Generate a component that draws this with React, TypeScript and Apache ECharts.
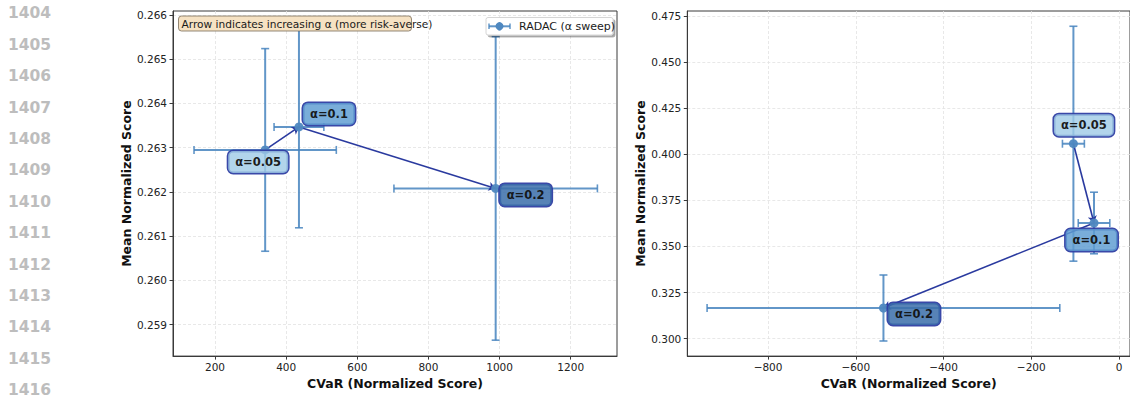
import React, { useEffect, useRef } from "react";
import * as echarts from "echarts";

// ---- data ----
const alphaLabels = ["α=0.05", "α=0.1", "α=0.2"];
const leftCvar = [341, 436, 989];
const leftCvarErr = [200, 70, 286];
const leftMean = [0.26295, 0.26347, 0.26208];
const leftMeanErr = [0.00229, 0.00228, 0.00343];
const rightCvar = [-104, -57, -537];
const rightCvarErr = [25, 36, 402];
const rightMean = [0.4057, 0.3627, 0.3166];
const rightMeanErr = [0.0637, 0.0167, 0.0179];

const leftXTicks = [200, 400, 600, 800, 1000, 1200];
const leftYTicks = [0.259, 0.26, 0.261, 0.262, 0.263, 0.264, 0.265, 0.266];
const rightXTicks = [-800, -600, -400, -200, 0];
const rightYTicks = [0.3, 0.325, 0.35, 0.375, 0.4, 0.425, 0.45, 0.475];
const lineNumbers = ["1404", "1405", "1406", "1407", "1408", "1409", "1410", "1411", "1412", "1413", "1414", "1415", "1416"];

const legendLabel = "RADAC (α sweep)";
const noteText = "Arrow indicates increasing α (more risk-averse)";
const xName = "CVaR (Normalized Score)";
const yName = "Mean Normalized Score";

// ---- styles ----
const FONT = "DejaVu Sans";
const errColor = "rgba(70,132,190,0.85)";
const markerColor = "#4f88c0";
const arrowColor = "#2a3a9f";
const labelColors = ["rgba(160,203,230,0.85)", "rgba(95,157,210,0.88)", "rgba(58,110,170,0.9)"];
const leftLabelOffsets = [[-7, 12], [30, -13], [30, 6.5]];
const rightLabelOffsets = [[10.5, -18.5], [-2.5, 17], [30.5, 6]];

const errRender = (params: any, api: any) => {
  const x = api.value(0), y = api.value(1), ex = api.value(2), ey = api.value(3);
  const L = api.coord([x - ex, y]);
  const R = api.coord([x + ex, y]);
  const T = api.coord([x, y + ey]);
  const B = api.coord([x, y - ey]);
  const c = 4;
  const st = { stroke: errColor, lineWidth: 2 };
  const cs = { stroke: errColor, lineWidth: 1.6 };
  return {
    type: "group",
    children: [
      { type: "line", shape: { x1: L[0], y1: L[1], x2: R[0], y2: R[1] }, style: st },
      { type: "line", shape: { x1: T[0], y1: T[1], x2: B[0], y2: B[1] }, style: st },
      { type: "line", shape: { x1: L[0], y1: L[1] - c, x2: L[0], y2: L[1] + c }, style: cs },
      { type: "line", shape: { x1: R[0], y1: R[1] - c, x2: R[0], y2: R[1] + c }, style: cs },
      { type: "line", shape: { x1: T[0] - c, y1: T[1], x2: T[0] + c, y2: T[1] }, style: cs },
      { type: "line", shape: { x1: B[0] - c, y1: B[1], x2: B[0] + c, y2: B[1] }, style: cs },
    ],
  };
};

const fmtNum = (v: number) => (v < 0 ? "\u2212" + Math.abs(v) : String(v));

function makeAxes(idx: number, xTicks: number[], yTicks: number[], xMin: number, xMax: number, yMin: number, yMax: number) {
  const splitLine = { show: true, lineStyle: { color: "#e2e2e2", type: [3, 2], width: 0.8 } };
  const axisLine = { show: true, onZero: false, lineStyle: { color: "#3a3a3a", width: 1 } };
  const axisTick = { show: true, length: 3.5, lineStyle: { color: "#3a3a3a" } };
  const x = {
    type: "value", gridIndex: idx, min: xMin, max: xMax,
    name: xName, nameLocation: "middle", nameGap: 18,
    nameTextStyle: { fontFamily: FONT, fontWeight: "bold", fontSize: 12.5, color: "#111" },
    axisLine, axisTick: { ...axisTick, customValues: xTicks },
    axisLabel: { customValues: xTicks, formatter: fmtNum, fontFamily: FONT, fontSize: 10.5, color: "#222", margin: 5 },
    splitLine,
  };
  const y = {
    type: "value", gridIndex: idx, min: yMin, max: yMax,
    name: yName, nameLocation: "middle", nameGap: 40,
    nameTextStyle: { fontFamily: FONT, fontWeight: "bold", fontSize: 12.5, color: "#111" },
    axisLine, axisTick: { ...axisTick, customValues: yTicks },
    axisLabel: { customValues: yTicks, formatter: (v: number) => v.toFixed(3), fontFamily: FONT, fontSize: 10.5, color: "#222", margin: 6 },
    splitLine,
  };
  return { x, y };
}

function makeSeries(idx: number, xs: number[], ys: number[], xe: number[], ye: number[], offsets: number[][]) {
  const errData = xs.map((x, i) => [x, ys[i], xe[i], ye[i]]);
  const arrows = xs.slice(0, -1).map((x, i) => ({ coords: [[x, ys[i]], [xs[i + 1], ys[i + 1]]] }));
  const pts = xs.map((x, i) => ({
    name: alphaLabels[i],
    value: [x, ys[i]],
    label: { offset: offsets[i], backgroundColor: labelColors[i] },
  }));
  return [
    {
      type: "custom", xAxisIndex: idx, yAxisIndex: idx, renderItem: errRender,
      data: errData, encode: { x: 0, y: 1 }, z: 2, clip: true,
    },
    {
      type: "lines", coordinateSystem: "cartesian2d", xAxisIndex: idx, yAxisIndex: idx,
      data: arrows, symbol: ["none", "arrow"], symbolSize: 7,
      lineStyle: { color: arrowColor, width: 1.6, opacity: 1, curveness: 0 }, z: 3,
    },
    {
      type: "scatter", xAxisIndex: idx, yAxisIndex: idx, data: pts, symbol: "circle", symbolSize: 9,
      itemStyle: { color: markerColor, opacity: 0.95 }, z: 4,
      label: {
        show: true, position: "inside", formatter: "{b}", fontFamily: FONT, fontWeight: "bold",
        fontSize: 11.5, color: "#111", borderColor: "#2f3ea3", borderWidth: 1.5, borderRadius: 5,
        padding: [5, 7, 5, 7],
      },
    },
  ];
}

export default function App() {
  const ref = useRef<HTMLDivElement>(null);
  useEffect(() => {
    document.body.style.margin = "0";
    const chart = echarts.init(ref.current!, null, { renderer: "svg" });
    const a = makeAxes(0, leftXTicks, leftYTicks, 81.9, 1330.1, 0.25829, 0.26609);
    const b = makeAxes(1, rightXTicks, rightYTicks, -984.1, 25, 0.29051, 0.47768);
    const lineNumTexts = lineNumbers.map((t, i) => ({
      type: "text", x: 8, y: 13.3 + 31.4 * i, z: 50,
      style: { text: t, fill: "#bdbdbd", font: `bold 15.5px '${FONT}'`, textVerticalAlign: "middle" },
    }));
    const Z = 100;
    chart.setOption({
      animation: false,
      grid: [
        { left: 173, top: 11, width: 444, height: 349, show: true, borderColor: "#3a3a3a", borderWidth: 1 },
        { left: 687.3, top: 11, width: 444, height: 349, show: true, borderColor: "#3a3a3a", borderWidth: 1 },
      ],
      xAxis: [a.x, b.x],
      yAxis: [a.y, b.y],
      series: [
        ...makeSeries(0, leftCvar, leftMean, leftCvarErr, leftMeanErr, leftLabelOffsets),
        ...makeSeries(1, rightCvar, rightMean, rightCvarErr, rightMeanErr, rightLabelOffsets),
      ],
      graphic: [
        ...lineNumTexts,
        { type: "rect", z: Z, shape: { x: 178.5, y: 16, width: 233, height: 15, r: 3 },
          style: { fill: "#f6e2c3", stroke: "#7a6c58", lineWidth: 0.8 } },
        { type: "text", z: Z + 1, x: 181.5, y: 23.6,
          style: { text: noteText, fill: "#1a1a1a", font: `10.6px '${FONT}'`, textVerticalAlign: "middle" } },
        { type: "rect", z: Z, shape: { x: 486, y: 17.5, width: 127, height: 17.5, r: 2 },
          style: { fill: "#ffffff", stroke: "#cccccc", lineWidth: 0.8, shadowColor: "rgba(0,0,0,0.35)", shadowOffsetX: 2, shadowOffsetY: 2, shadowBlur: 0 } },
        { type: "line", z: Z + 1, shape: { x1: 489, y1: 26.3, x2: 510, y2: 26.3 }, style: { stroke: errColor, lineWidth: 2 } },
        { type: "line", z: Z + 1, shape: { x1: 499.5, y1: 22, x2: 499.5, y2: 30.6 }, style: { stroke: errColor, lineWidth: 2 } },
        { type: "line", z: Z + 1, shape: { x1: 489, y1: 23.5, x2: 489, y2: 29 }, style: { stroke: errColor, lineWidth: 1.5 } },
        { type: "line", z: Z + 1, shape: { x1: 510, y1: 23.5, x2: 510, y2: 29 }, style: { stroke: errColor, lineWidth: 1.5 } },
        { type: "circle", z: Z + 2, shape: { cx: 499.5, cy: 26.3, r: 4 }, style: { fill: markerColor } },
        { type: "text", z: Z + 1, x: 519, y: 26.5,
          style: { text: legendLabel, fill: "#1a1a1a", font: `11px '${FONT}'`, textVerticalAlign: "middle" } },
      ],
    });
    return () => chart.dispose();
  }, []);
  return <div ref={ref} style={{ width: 1130, height: 395 }} />;
}
